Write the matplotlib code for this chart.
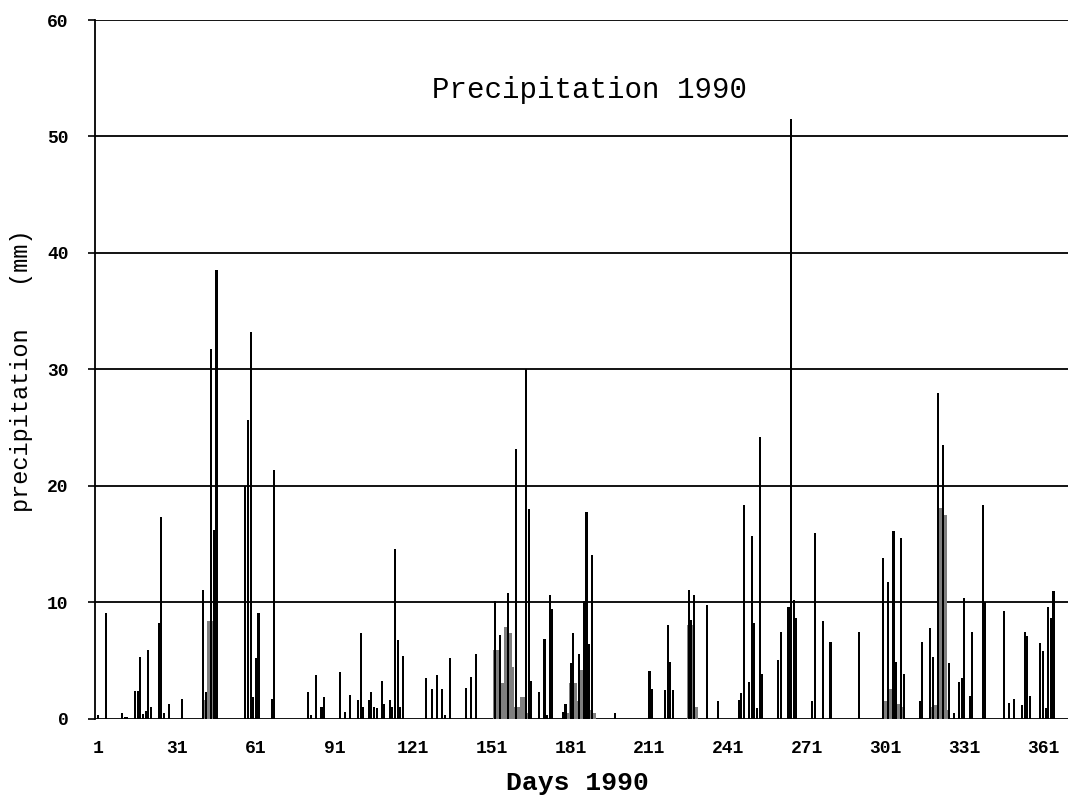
import numpy as np
import matplotlib
matplotlib.use("Agg")
import matplotlib.pyplot as plt

# Daily precipitation (mm), days with rainfall only
rain_days = [1, 4, 10, 11, 12, 15, 16, 17, 18, 19, 20, 21, 24, 25, 26, 28, 33,
             41, 42, 44, 45, 46, 57, 58, 59, 60, 61, 62, 67, 68,
             81, 82, 84, 86, 87, 93, 95, 97, 100, 101, 102, 104, 105, 106, 107,
             109, 110, 112, 113, 114, 115, 116, 117, 126, 128, 130, 132, 133,
             135, 141, 143, 145,
             152, 154, 157, 160, 164, 165, 166, 169, 171, 172, 173, 174, 178,
             179, 181, 182, 184, 186, 187, 188, 189, 198,
             211, 212, 217, 218, 219, 220, 226, 227, 228, 233, 237,
             245, 246, 247, 249, 250, 251, 252, 253, 254, 260, 261, 264, 265,
             266, 267, 273, 274, 277, 280, 291,
             300, 302, 304, 305, 307, 308, 314, 315, 318, 319, 321, 323, 325,
             327, 329, 330, 331, 333, 334, 338, 339, 346, 348, 350, 353, 354,
             355, 356, 360, 361, 362, 363, 364, 365]
rain_mm = [0.3, 9.1, 0.5, 0.2, 0.2, 2.4, 2.4, 5.3, 0.4, 0.7, 5.9, 1.0, 8.2, 17.3, 0.5, 1.3, 1.7,
           11.1, 2.3, 31.8, 16.2, 38.5, 20.0, 25.7, 33.2, 1.9, 5.2, 9.1, 1.7, 21.4,
           2.3, 0.3, 3.8, 1.0, 1.9, 4.0, 0.6, 2.1, 1.6, 7.4, 1.0, 1.6, 2.3, 1.0, 0.9,
           3.3, 1.3, 1.6, 1.0, 14.6, 6.8, 1.0, 5.4, 3.5, 2.6, 3.8, 2.6, 0.3,
           5.2, 2.7, 3.6, 5.6,
           10.1, 7.2, 10.8, 23.2, 30.0, 18.0, 3.3, 2.3, 6.9, 0.35, 10.6, 9.4, 0.6,
           1.3, 4.8, 7.35, 5.6, 10.1, 17.8, 6.4, 14.1, 0.5,
           4.1, 2.6, 2.5, 8.1, 4.9, 2.5, 11.1, 8.5, 10.6, 9.8, 1.5,
           1.6, 2.2, 18.4, 3.2, 15.7, 8.2, 0.9, 24.2, 3.9, 5.1, 7.5, 9.6, 51.5,
           10.2, 8.7, 1.5, 16.0, 8.4, 6.6, 7.5,
           13.8, 11.8, 16.1, 4.9, 15.5, 3.9, 1.5, 6.6, 7.8, 5.3, 28.0, 23.5, 4.8,
           0.5, 3.2, 3.5, 10.4, 2.0, 7.5, 18.4, 10.0, 9.3, 1.4, 1.7, 1.2, 7.5,
           7.1, 2.0, 6.5, 5.8, 0.9, 9.6, 8.7, 11.0]

# Shaded (grey) periods
grey_days = [41, 42, 43, 44, 45, 46,
             152, 153, 154, 155, 156, 157, 158, 159, 160, 161, 162, 163, 164, 165,
             180, 181, 182, 183, 184, 185, 186, 187, 188, 189, 190,
             226, 227, 228, 229,
             300, 301, 302, 303, 304, 305, 306, 307,
             318, 319, 320, 321, 322, 323, 324, 325]
grey_mm = [1.6, 1.6, 8.4, 8.4, 8.4, 0.5,
           5.9, 5.9, 3.1, 3.1, 7.9, 7.9, 7.4, 4.5, 1.0, 1.0, 1.9, 1.9, 1.0, 0.5,
           0.5, 3.1, 3.1, 3.1, 1.5, 4.2, 3.1, 3.1, 1.5, 0.8, 0.5,
           8.1, 8.1, 8.1, 1.0,
           1.5, 1.5, 2.6, 2.6, 2.6, 1.3, 1.3, 1.0,
           1.0, 1.0, 1.2, 18.1, 18.1, 17.5, 17.5, 0.8]

x_ticks = [1, 31, 61, 91, 121, 151, 181, 211, 241, 271, 301, 331, 361]
y_ticks = [0, 10, 20, 30, 40, 50, 60]

title = "Precipitation 1990"
xlabel = "Days 1990"
ylabel = "precipitation   (mm)"

FONT = "Liberation Mono"

fig = plt.figure(figsize=(10.7, 7.97), dpi=100)
ax = fig.add_axes([0.0888, 0.0979, 0.9093, 0.877])

# horizontal grid
for yv in y_ticks:
    ax.axhline(yv, color="black", lw=1.3, zorder=1)

ax.bar(grey_days, grey_mm, width=1.0, color="#7f7f7f", edgecolor="none", zorder=2)
ax.bar(rain_days, rain_mm, width=0.8, color="black", edgecolor="none", zorder=3)

ax.set_xlim(-0.3, 370.5)
ax.set_ylim(0, 60)

for s in ["top", "right", "bottom"]:
    ax.spines[s].set_visible(False)
ax.spines["left"].set_linewidth(1.3)

ax.set_xticks(x_ticks)
ax.set_xticklabels([str(t) for t in x_ticks], fontfamily=FONT, fontweight="bold", fontsize=13)
ax.set_yticks(y_ticks)
ax.set_yticklabels([str(t) for t in y_ticks], fontfamily=FONT, fontweight="bold", fontsize=13)
ax.tick_params(axis="x", length=0, pad=15)
ax.tick_params(axis="y", length=5, width=1.2, pad=14)

ax.text(0.508, 0.9, title, transform=ax.transAxes, ha="center", va="center",
        fontfamily=FONT, fontsize=21)
fig.text(0.54, 0.018, xlabel, ha="center", va="center",
         fontfamily=FONT, fontweight="bold", fontsize=19)
fig.text(0.02, 0.535, ylabel, ha="center", va="center", rotation=90,
         fontfamily=FONT, fontsize=17)

fig.savefig("out.png", dpi=100)
